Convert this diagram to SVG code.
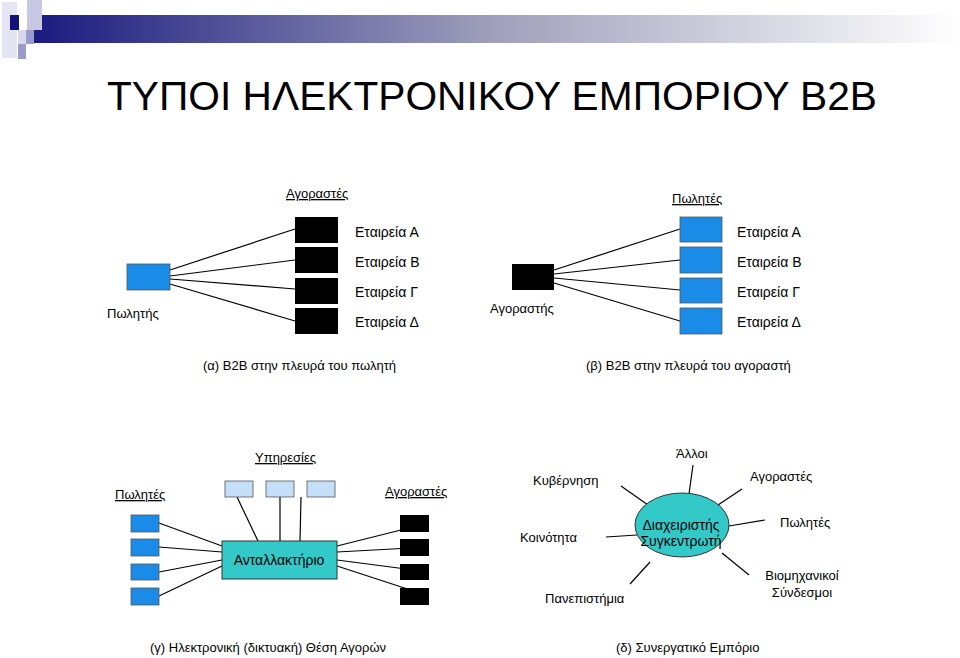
<svg xmlns="http://www.w3.org/2000/svg" width="960" height="658" viewBox="0 0 960 658">
<defs>
<linearGradient id="bar" x1="0" y1="0" x2="1" y2="0">
<stop offset="0" stop-color="#1a1a80"/><stop offset="0.5" stop-color="#a0a0bc"/><stop offset="1" stop-color="#ffffff"/>
</linearGradient>
<style>
text{font-family:"Liberation Sans",Arial,sans-serif;font-size:13px;fill:#000}
.lbl{font-size:14px}
.u{text-decoration:underline}
.ln{stroke:#000;stroke-width:1.2;fill:none}
.blue{fill:#1a8ce8;stroke:#555;stroke-width:0.8}
.blk{fill:#000}
.svc{fill:#c4e0f8;stroke:#555;stroke-width:0.8}
.teal{fill:#33c9c9;stroke:#333;stroke-width:1}
</style>
</defs>
<rect width="960" height="658" fill="#fff"/>
<g id="header">
<rect x="33" y="15" width="927" height="28" fill="url(#bar)"/>
<rect x="2" y="2" width="15" height="56" fill="#e4e4f2"/>
<rect x="27" y="0" width="15" height="30" fill="#c8c8e4"/>
<rect x="18" y="30" width="15" height="14" fill="#d8d8ec"/>
<rect x="18" y="44" width="8" height="15" fill="#9a9acc"/>
<rect x="26" y="30" width="8" height="14" fill="#9a9acc"/>
<rect x="10" y="15" width="9" height="15" fill="#12127a"/>
</g>
<text x="107" y="110" style="font-size:40px" textLength="770" lengthAdjust="spacingAndGlyphs">ΤΥΠΟΙ ΗΛΕΚΤΡΟΝΙΚΟΥ ΕΜΠΟΡΙΟΥ B2B</text>

<g id="connectors">
<path class="ln" d="M170 270L295 229M170 276L295 260M170 279L295 289M170 284L295 321"/>
<path class="ln" d="M554 270L680 229M554 274L680 260M554 278L680 290M554 283L680 321"/>
<path class="ln" d="M159 523L222 546M159 547L222 552M159 572L222 560M159 596L222 566"/>
<path class="ln" d="M429 523L337 546M429 547L337 552M429 572L337 560M429 596L337 566"/>
<path class="ln" d="M237 497L258 541M280 497L280 541M301 497L300 541"/>
<path class="ln" d="M621 486L648 505M693 465L689 494M742 489L718 505M765 520L729 526M606 537L637 535M749 575L722 553M630 584L650 562"/>
</g>

<g id="sec-a">
<text x="286" y="198" class="u">Αγοραστές</text>
<rect class="blue" x="127" y="264" width="43" height="26"/>
<text x="107" y="318">Πωλητής</text>
<rect class="blk" x="295" y="217" width="43" height="26"/>
<rect class="blk" x="295" y="247" width="43" height="26"/>
<rect class="blk" x="295" y="278" width="43" height="26"/>
<rect class="blk" x="295" y="308" width="43" height="26"/>
<text x="355" y="237" class="lbl">Εταιρεία Α</text>
<text x="355" y="267" class="lbl">Εταιρεία Β</text>
<text x="355" y="297" class="lbl">Εταιρεία Γ</text>
<text x="355" y="327" class="lbl">Εταιρεία Δ</text>
<text x="203" y="370">(α) B2B στην πλευρά του πωλητή</text>
</g>

<g id="sec-b">
<text x="672" y="203" class="u">Πωλητές</text>
<rect class="blk" x="512" y="264" width="42" height="26"/>
<text x="490" y="313">Αγοραστής</text>
<rect class="blue" x="680" y="217" width="42" height="25"/>
<rect class="blue" x="680" y="247" width="42" height="26"/>
<rect class="blue" x="680" y="278" width="42" height="25"/>
<rect class="blue" x="680" y="308" width="42" height="26"/>
<text x="737" y="237" class="lbl">Εταιρεία Α</text>
<text x="737" y="267" class="lbl">Εταιρεία Β</text>
<text x="737" y="297" class="lbl">Εταιρεία Γ</text>
<text x="737" y="327" class="lbl">Εταιρεία Δ</text>
<text x="586" y="370">(β) B2B στην πλευρά του αγοραστή</text>
</g>

<g id="sec-c">
<text x="255" y="462" class="u">Υπηρεσίες</text>
<text x="115" y="499" class="u">Πωλητές</text>
<text x="385" y="496" class="u">Αγοραστές</text>
<rect class="svc" x="225" y="481" width="28" height="16"/>
<rect class="svc" x="266" y="481" width="28" height="16"/>
<rect class="svc" x="307" y="481" width="28" height="16"/>
<rect class="blue" x="131" y="515" width="28" height="17"/>
<rect class="blue" x="131" y="539" width="28" height="17"/>
<rect class="blue" x="131" y="564" width="28" height="16"/>
<rect class="blue" x="131" y="588" width="28" height="17"/>
<rect class="blk" x="400" y="515" width="29" height="17"/>
<rect class="blk" x="400" y="539" width="29" height="17"/>
<rect class="blk" x="400" y="564" width="29" height="16"/>
<rect class="blk" x="400" y="588" width="29" height="17"/>
<rect class="teal" x="222" y="541" width="115" height="38"/>
<text x="279" y="565" text-anchor="middle" class="lbl">Ανταλλακτήριο</text>
<text x="150" y="652">(γ) Ηλεκτρονική (δικτυακή) Θέση Αγορών</text>
</g>

<g id="sec-d">
<ellipse class="teal" cx="682" cy="525" rx="47" ry="32"/>
<text x="681" y="530" text-anchor="middle" class="lbl">Διαχειριστής</text>
<text x="681" y="546" text-anchor="middle" class="lbl">Συγκεντρωτή</text>
<text x="533" y="485">Κυβέρνηση</text>
<text x="676" y="458">Άλλοι</text>
<text x="750" y="481">Αγοραστές</text>
<text x="780" y="527">Πωλητές</text>
<text x="520" y="542">Κοινότητα</text>
<text x="802" y="580" text-anchor="middle">Βιομηχανικοί</text>
<text x="802" y="597" text-anchor="middle">Σύνδεσμοι</text>
<text x="545" y="603">Πανεπιστήμια</text>
<text x="616" y="652">(δ) Συνεργατικό Εμπόριο</text>
</g>
</svg>
